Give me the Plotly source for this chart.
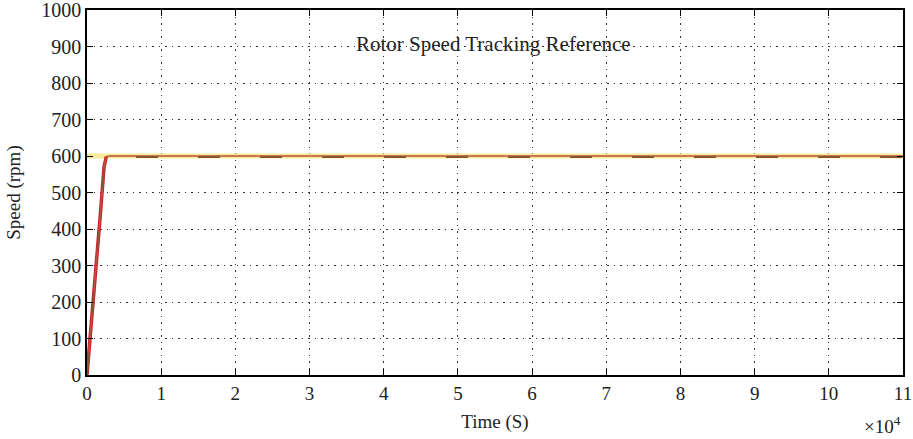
import plotly.graph_objects as go

# Data (time in seconds, speed in rpm)
ref_t = [0, 110000]
ref_speed = [600, 600]

actual_t = [0, 600, 1200, 1800, 2300, 2600, 3000, 110000]
actual_speed = [0, 140, 290, 440, 570, 598, 600, 600]

est_t = [0, 600, 1200, 1800, 2300, 2600, 3000, 110000]
est_speed = [0, 135, 285, 435, 565, 595, 597, 597]

x_tickvals = [i * 10000 for i in range(12)]
x_ticktext = [str(i) for i in range(12)]
y_tickvals = list(range(0, 1001, 100))

FONT = "Liberation Serif"
TXT = "#222222"

fig = go.Figure()
fig.add_trace(go.Scatter(x=ref_t, y=ref_speed, mode="lines",
                         line=dict(color="#f7eb9a", width=5), name="Reference"))
fig.add_trace(go.Scatter(x=actual_t[:6], y=actual_speed[:6], mode="lines",
                         line=dict(color="#c8202c", width=3.5), name="Actual ramp"))
fig.add_trace(go.Scatter(x=actual_t, y=actual_speed, mode="lines",
                         line=dict(color="#c0503a", width=1.5), name="Actual"))
fig.add_trace(go.Scatter(x=est_t, y=est_speed, mode="lines",
                         line=dict(color="#8a5535", width=2, dash="22px,40px"),
                         name="Estimated"))

axis_common = dict(showline=True, linecolor="black", linewidth=1.5, mirror="ticks",
                   ticks="inside", ticklen=6, tickcolor="black",
                   showgrid=True, gridcolor="#333333", gridwidth=1.2, griddash="1.5px,5px",
                   zeroline=False, automargin=False, ticklabeloverflow="allow")

fig.update_xaxes(range=[0, 110000], tickvals=x_tickvals, ticktext=x_ticktext,
                 tickfont=dict(family=FONT, size=19, color=TXT),
                 title=dict(text="Time (S)", font=dict(family=FONT, size=19, color=TXT),
                            standoff=12),
                 **axis_common)
fig.update_yaxes(range=[0, 1000], tickvals=y_tickvals,
                 tickfont=dict(family=FONT, size=20, color=TXT),
                 title=dict(text="Speed (rpm)", font=dict(family=FONT, size=19, color=TXT),
                            standoff=16),
                 **axis_common)

fig.add_annotation(x=0.498, y=907, xref="paper", yref="y", text="Rotor Speed Tracking Reference",
                   showarrow=False, font=dict(family=FONT, size=21, color=TXT))
fig.add_annotation(x=1.0, y=-0.137, xref="paper", yref="paper", xanchor="right", yanchor="middle",
                   text="×10<sup>4</sup>", showarrow=False,
                   font=dict(family=FONT, size=19, color=TXT))

fig.update_layout(width=913, height=439, margin=dict(l=87, r=10, t=10, b=64),
                  paper_bgcolor="white", plot_bgcolor="white", showlegend=False)

fig.write_html("out.html")
